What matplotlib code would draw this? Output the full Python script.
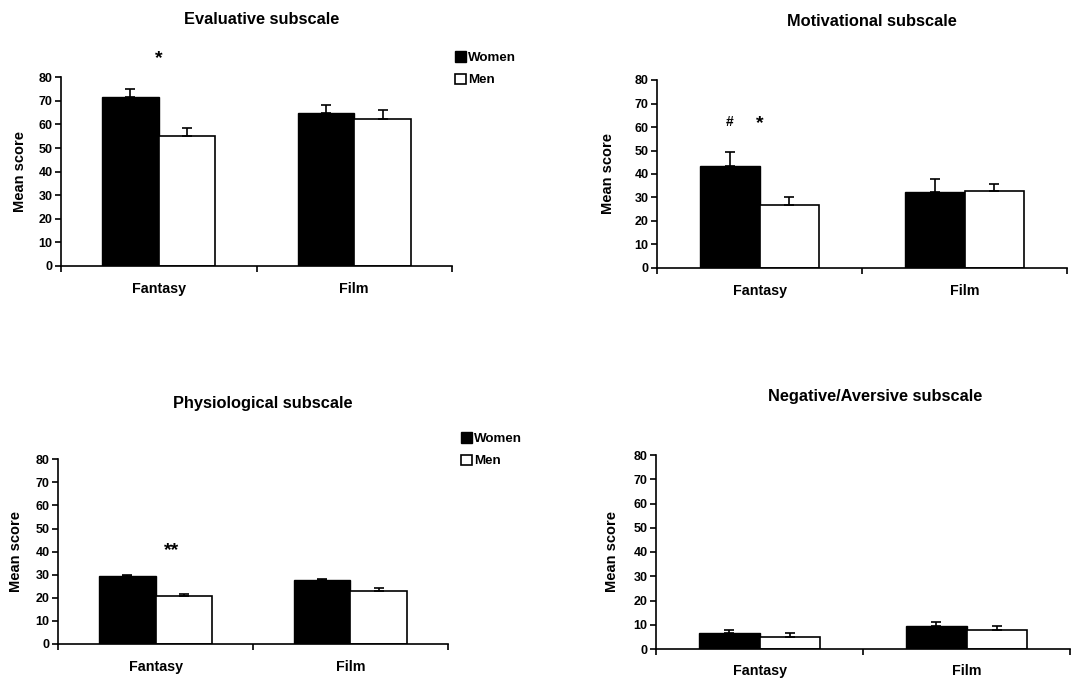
import matplotlib
matplotlib.use("Agg")
import matplotlib.pyplot as plt
from matplotlib.patches import Patch

plt.rcParams['font.family'] = ['Liberation Sans', 'DejaVu Sans']
plt.rcParams['font.weight'] = 'bold'

categories = ['Fantasy', 'Film']
series_names = ['Women', 'Men']

eval_women = [71.5, 65.0]
eval_women_err = [3.5, 3.2]
eval_men = [55.0, 62.4]
eval_men_err = [3.6, 3.6]

mot_women = [43.5, 32.3]
mot_women_err = [5.7, 5.5]
mot_men = [27.0, 32.7]
mot_men_err = [3.3, 3.0]

phys_women = [29.3, 27.8]
phys_women_err = [0.7, 0.5]
phys_men = [21.0, 23.0]
phys_men_err = [0.8, 1.4]

neg_women = [6.5, 9.3]
neg_women_err = [1.3, 1.8]
neg_men = [4.9, 7.8]
neg_men_err = [1.6, 1.5]

titles = ['Evaluative subscale', 'Motivational subscale',
          'Physiological subscale', 'Negative/Aversive subscale']
yticks = [0, 10, 20, 30, 40, 50, 60, 70, 80]

W, H = 1071, 681
fig = plt.figure(figsize=(W / 100, H / 100), dpi=100)

# pixel boxes: left, right, y0(bottom), y80(top)
boxes = [(61, 452, 266, 77.3), (657, 1067, 268, 80),
         (58, 448, 644, 459.3), (656, 1070, 649, 455)]
title_pos = [(262, 20), (872, 22), (263, 403), (875, 396)]
ylabel_x = [20, 608, 16, 612]
xlab_y = [289, 291, 667, 671]

data = [(eval_women, eval_women_err, eval_men, eval_men_err),
        (mot_women, mot_women_err, mot_men, mot_men_err),
        (phys_women, phys_women_err, phys_men, phys_men_err),
        (neg_women, neg_women_err, neg_men, neg_men_err)]

bw = 0.29
axes = []
for i, (l, r, y0, y80) in enumerate(boxes):
    ax = fig.add_axes([l / W, (H - y0) / H, (r - l) / W, (y0 - y80) / H])
    axes.append(ax)
    w, we, m, me = data[i]
    xs = [0.5, 1.5]
    xw = [x - bw / 2 for x in xs]
    xm = [x + bw / 2 for x in xs]
    ax.bar(xw, w, width=bw, color='black', edgecolor='black', linewidth=1, zorder=2)
    ax.bar(xm, m, width=bw, color='white', edgecolor='black', linewidth=1.2, zorder=2)
    ax.errorbar(xw, w, yerr=[[0, 0], we], fmt='none', ecolor='black',
                elinewidth=1.2, capsize=3.5, capthick=1.2, zorder=3)
    ax.errorbar(xm, m, yerr=[[0, 0], me], fmt='none', ecolor='black',
                elinewidth=1.2, capsize=3.5, capthick=1.2, zorder=3)
    ax.set_xlim(0, 2)
    ax.set_ylim(0, 80)
    ax.set_yticks(yticks)
    ax.set_yticklabels([str(t) for t in yticks], fontsize=9, fontweight='bold')
    ax.set_xticks([0, 1, 2])
    ax.set_xticklabels([])
    ax.tick_params(axis='both', direction='out', length=4, width=1.2, pad=2)
    for s in ['top', 'right']:
        ax.spines[s].set_visible(False)
    for s in ['left', 'bottom']:
        ax.spines[s].set_linewidth(1.2)
    # category labels
    for x, c in zip(xs, categories):
        px = l + (r - l) * x / 2
        fig.text(px / W, 1 - xlab_y[i] / H, c, ha='center', va='center',
                 fontsize=10.3, fontweight='bold')
    tx, ty = title_pos[i]
    fig.text(tx / W, 1 - ty / H, titles[i], ha='center', va='center',
             fontsize=11.8, fontweight='bold')
    fig.text(ylabel_x[i] / W, 1 - ((y0 + y80) / 2) / H, 'Mean score', rotation=90,
             ha='center', va='center', fontsize=10.5, fontweight='bold')

# significance marks
axes[0].text(0.5, 88.0, '*', ha='center', va='center', fontsize=14,
             fontweight='bold', clip_on=False)
axes[1].text(0.5 - bw / 2, 62, '#', ha='center', va='center', fontsize=10,
             fontweight='bold', clip_on=False)
axes[1].text(0.5, 61.5, '*', ha='center', va='center', fontsize=14,
             fontweight='bold', clip_on=False)
axes[2].text(0.58, 40.5, '**', ha='center', va='center', fontsize=14,
             fontweight='bold', clip_on=False)

handles = [Patch(facecolor='black', edgecolor='black'),
           Patch(facecolor='white', edgecolor='black', linewidth=1.2)]
for (lx, ly) in [(455, 51), (461, 432)]:
    fig.legend(handles, series_names, loc='upper left',
               bbox_to_anchor=(lx / W, 1 - ly / H), frameon=False,
               prop={'size': 9.6, 'weight': 'bold'}, handlelength=0.85,
               handleheight=0.85, handletextpad=0.15, labelspacing=0.72,
               borderaxespad=0, borderpad=0.0)

fig.savefig('out.png', dpi=100)
